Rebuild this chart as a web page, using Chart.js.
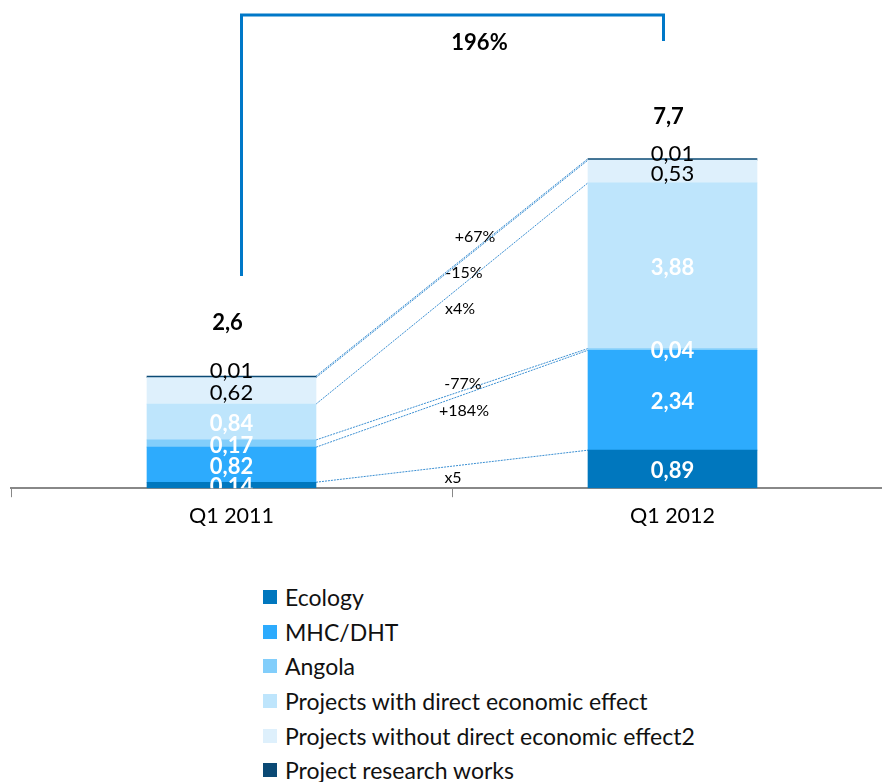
<!DOCTYPE html>
<html>
<head>
<meta charset="utf-8">
<script src="https://cdn.jsdelivr.net/npm/chart.js@4.4.1/dist/chart.umd.min.js"></script>
<style>
    html, body { margin: 0; padding: 0; background: #fff; overflow: hidden; }
    body { width: 882px; height: 782px; position: relative; font-family: 'Lato', sans-serif; }
    #chart-box { position: absolute; left: 0; top: 0; width: 900px; height: 535px; }
    #legend { position: absolute; left: 263px; top: 580px; }
    .legend-item { display: flex; align-items: center; height: 34.6px; font-size: 23px; color: #111; }
    .legend-swatch { width: 14px; height: 14px; margin-right: 8px; }
</style>
</head>
<body>
<div id="chart-box"><canvas id="growth-chart"></canvas></div>
<div id="legend"></div>

<script>
// Data
const categories = ['Q1 2011', 'Q1 2012'];
const seriesNames = [
    'Ecology',
    'MHC/DHT',
    'Angola',
    'Projects with direct economic effect',
    'Projects without direct economic effect2',
    'Project research works'
];
const ecology = [0.14, 0.89];
const mhcDht = [0.82, 2.34];
const angola = [0.17, 0.04];
const directEffect = [0.84, 3.88];
const noDirectEffect = [0.62, 0.53];
const researchWorks = [0.01, 0.01];
const growthLabels = ['x5', '+184%', '-77%', 'x4%', '-15%', '+67%'];
const totalGrowth = '196%';

const seriesValues = [ecology, mhcDht, angola, directEffect, noDirectEffect, researchWorks];
const seriesColors = ['#0077BE', '#2DABFD', '#82CEFB', '#BEE5FC', '#DEF0FC', '#0B4A75'];

const fmt = v => v.toFixed(2).replace('.', ',');

// -------------------------------------------------------------
// Annotation plugin: series lines, value labels, totals, bracket
// -------------------------------------------------------------
const annotations = {
    id: 'annotations',
    beforeDatasetsDraw(chart) {
        const ctx = chart.ctx;
        ctx.save();
        ctx.strokeStyle = '#3B8FD2';
        ctx.lineWidth = 1;
        ctx.setLineDash([2, 1]);
        chart.data.datasets.forEach((ds, i) => {
            const bars = chart.getDatasetMeta(i).data;
            const a = bars[0], b = bars[1];
            ctx.beginPath();
            ctx.moveTo(a.x + a.width / 2, a.y);
            ctx.lineTo(b.x - b.width / 2, b.y);
            ctx.stroke();
        });
        ctx.restore();
    },
    afterDatasetsDraw(chart) {
        const ctx = chart.ctx;
        const area = chart.chartArea;
        ctx.save();
        ctx.textAlign = 'center';
        ctx.textBaseline = 'middle';

        // segment values, clipped to the plot area like Excel
        ctx.save();
        ctx.beginPath();
        ctx.rect(area.left, area.top, area.right - area.left, area.bottom - area.top);
        ctx.clip();
        chart.data.datasets.forEach((ds, i) => {
            const light = i >= 4;
            ctx.fillStyle = light ? '#000' : '#fff';
            ctx.font = (light ? '' : 'bold ') + "22px 'Lato', sans-serif";
            chart.getDatasetMeta(i).data.forEach((bar, j) => {
                let y = (bar.y + bar.base) / 2 + 2;
                if (i === 5) y -= 8;
                ctx.fillText(fmt(ds.data[j]), bar.x, y);
            });
        });
        ctx.restore();

        // growth labels between the bars
        const labelShift = [[1, 12], [12, 12], [11, -10], [8, 15], [12, 4], [23, -31]];
        ctx.fillStyle = '#000';
        ctx.font = "16px 'Lato', sans-serif";
        chart.data.datasets.forEach((ds, i) => {
            const bars = chart.getDatasetMeta(i).data;
            const x1 = bars[0].x + bars[0].width / 2, x2 = bars[1].x - bars[1].width / 2;
            const mx = (x1 + x2) / 2, my = (bars[0].y + bars[1].y) / 2;
            ctx.fillText(growthLabels[i], mx + labelShift[i][0], my + labelShift[i][1]);
        });

        // totals above each column
        const top = chart.getDatasetMeta(chart.data.datasets.length - 1).data;
        const totalShift = [-53, -42];
        ctx.font = "bold 22px 'Lato', sans-serif";
        categories.forEach((c, j) => {
            const sum = seriesValues.reduce((s, arr) => s + arr[j], 0);
            ctx.fillText(sum.toFixed(1).replace('.', ','), top[j].x - 4, top[j].y + totalShift[j]);
        });

        // growth bracket
        const lx = top[0].x + 10, rx = top[1].x - 9, yTop = 15;
        ctx.strokeStyle = '#0078C8';
        ctx.lineWidth = 3;
        ctx.beginPath();
        ctx.moveTo(lx, top[0].y - 100);
        ctx.lineTo(lx, yTop);
        ctx.lineTo(rx, yTop);
        ctx.lineTo(rx, 41);
        ctx.stroke();
        ctx.fillText(totalGrowth, (lx + rx) / 2 + 27, 43);
        ctx.restore();
    }
};

const ctx = document.getElementById('growth-chart').getContext('2d');
new Chart(ctx, {
    type: 'bar',
    data: {
        labels: categories,
        datasets: seriesValues.map((vals, i) => ({
            label: seriesNames[i],
            data: vals,
            backgroundColor: seriesColors[i],
            borderWidth: 0,
            barThickness: 169,
            minBarLength: i === 5 ? 1.5 : 0
        }))
    },
    options: {
        responsive: true,
        maintainAspectRatio: false,
        animation: false,
        layout: { padding: { left: 11, right: 7, top: 0, bottom: 0 } },
        plugins: { legend: { display: false }, tooltip: { enabled: false } },
        scales: {
            x: {
                stacked: true,
                border: { color: '#888', width: 2 },
                grid: { drawOnChartArea: false, color: '#888', tickLength: 9, lineWidth: 1 },
                ticks: { color: '#000', font: { family: "'Lato', sans-serif", size: 21.5 }, padding: 6 }
            },
            y: {
                stacked: true,
                display: false,
                min: 0,
                max: 11.43
            }
        }
    },
    plugins: [annotations]
});

// HTML legend, same order as the reference
const legend = document.getElementById('legend');
seriesNames.forEach((name, i) => {
    const item = document.createElement('div');
    item.className = 'legend-item';
    item.innerHTML = `<span class="legend-swatch" style="background:${seriesColors[i]}"></span><span>${name}</span>`;
    legend.appendChild(item);
});
</script>
</body>
</html>
